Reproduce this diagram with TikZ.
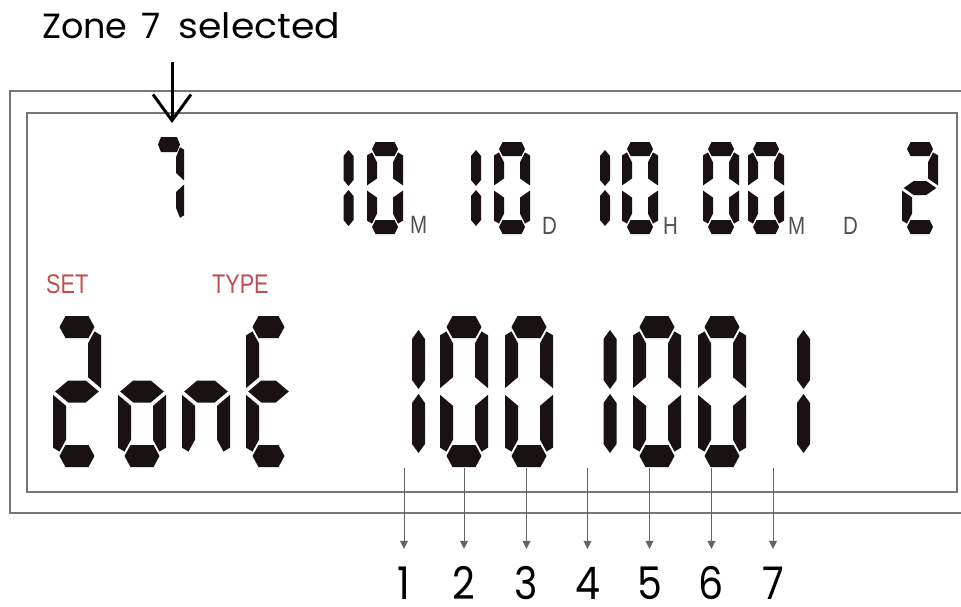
\documentclass[tikz,border=0pt]{standalone}
\usepackage{fontspec}
\setmainfont{Liberation Sans}
\newfontfamily\popfont{Poppins}
\usetikzlibrary{arrows.meta}
\definecolor{framegray}{RGB}{118,118,118}
\definecolor{labgray}{RGB}{80,80,80}
\definecolor{setred}{RGB}{192,78,78}
\definecolor{segblack}{RGB}{26,18,18}
\definecolor{arrowgray}{RGB}{100,100,100}

% seven-segment digit: #1 left, #2 top, #3 width, #4 height, #5 vertical thickness, #6 horizontal thickness, #7 slant, #8 segments
\newcommand{\lcddigit}[8]{%
  \pgfmathsetmacro{\lcdL}{#1}\pgfmathsetmacro{\lcdT}{#2}%
  \pgfmathsetmacro{\lcdR}{#1+#3}\pgfmathsetmacro{\lcdB}{#2+#4}%
  \pgfmathsetmacro{\lcdM}{#2+#4/2}\pgfmathsetmacro{\lcdv}{#5}%
  \pgfmathsetmacro{\lcdh}{#6}\pgfmathsetmacro{\lcds}{#7}%
  \pgfmathsetmacro{\lcdg}{#5*0.17}%
  \pgfmathsetmacro{\lcdpi}{(#5/2)*(#6/2)/#7}%
  \pgfmathsetmacro{\lcdpo}{#5*0.3}%
  \foreach \sg in {#8} {\csname lcdseg\sg\endcsname}%
}
\newcommand{\lcdsega}{\fill[segblack] ({\lcdL+\lcdv/2+\lcds},\lcdT) -- ({\lcdR-\lcdv/2-\lcds},\lcdT) -- ({\lcdR-\lcdv/2},{\lcdT+\lcdh/2}) -- ({\lcdR-\lcdv/2-\lcds},{\lcdT+\lcdh}) -- ({\lcdL+\lcdv/2+\lcds},{\lcdT+\lcdh}) -- ({\lcdL+\lcdv/2},{\lcdT+\lcdh/2}) -- cycle;}
\newcommand{\lcdsegd}{\fill[segblack] ({\lcdL+\lcdv/2+\lcds},\lcdB) -- ({\lcdR-\lcdv/2-\lcds},\lcdB) -- ({\lcdR-\lcdv/2},{\lcdB-\lcdh/2}) -- ({\lcdR-\lcdv/2-\lcds},{\lcdB-\lcdh}) -- ({\lcdL+\lcdv/2+\lcds},{\lcdB-\lcdh}) -- ({\lcdL+\lcdv/2},{\lcdB-\lcdh/2}) -- cycle;}
\newcommand{\lcdsegg}{\fill[segblack] ({\lcdL+\lcdg},\lcdM) -- ({\lcdL+\lcdv+\lcdg},{\lcdM-\lcdh/2}) -- ({\lcdR-\lcdv-\lcdg},{\lcdM-\lcdh/2}) -- ({\lcdR-\lcdg},\lcdM) -- ({\lcdR-\lcdv-\lcdg},{\lcdM+\lcdh/2}) -- ({\lcdL+\lcdv+\lcdg},{\lcdM+\lcdh/2}) -- cycle;}
\newcommand{\lcdsegf}{\fill[segblack] ({\lcdL+\lcdv/2},{\lcdT+\lcdh/2+2*\lcdg}) -- ({\lcdL+\lcdv},{\lcdT+\lcdh/2+2*\lcdg+\lcdpi}) -- ({\lcdL+\lcdv},{\lcdM-\lcdh/2-1.5*\lcdg}) -- (\lcdL,{\lcdM-1.5*\lcdg}) -- (\lcdL,{\lcdT+\lcdh/2+2*\lcdg+\lcdpo}) -- cycle;}
\newcommand{\lcdsege}{\fill[segblack] ({\lcdL+\lcdv/2},{\lcdB-\lcdh/2-2*\lcdg}) -- ({\lcdL+\lcdv},{\lcdB-\lcdh/2-2*\lcdg-\lcdpi}) -- ({\lcdL+\lcdv},{\lcdM+\lcdh/2+1.5*\lcdg}) -- (\lcdL,{\lcdM+1.5*\lcdg}) -- (\lcdL,{\lcdB-\lcdh/2-2*\lcdg-\lcdpo}) -- cycle;}
\newcommand{\lcdsegb}{\fill[segblack] ({\lcdR-\lcdv/2},{\lcdT+\lcdh/2+2*\lcdg}) -- ({\lcdR-\lcdv},{\lcdT+\lcdh/2+2*\lcdg+\lcdpi}) -- ({\lcdR-\lcdv},{\lcdM-\lcdh/2-1.5*\lcdg}) -- (\lcdR,{\lcdM-1.5*\lcdg}) -- (\lcdR,{\lcdT+\lcdh/2+2*\lcdg+\lcdpo}) -- cycle;}
\newcommand{\lcdsegc}{\fill[segblack] ({\lcdR-\lcdv/2},{\lcdB-\lcdh/2-2*\lcdg}) -- ({\lcdR-\lcdv},{\lcdB-\lcdh/2-2*\lcdg-\lcdpi}) -- ({\lcdR-\lcdv},{\lcdM+\lcdh/2+1.5*\lcdg}) -- (\lcdR,{\lcdM+1.5*\lcdg}) -- (\lcdR,{\lcdB-\lcdh/2-2*\lcdg-\lcdpo}) -- cycle;}
% narrow "1": #1 centre x, #2 top, #3 height, #4 thickness, #5 point length, #6 end inset, #7 middle gap
\newcommand{\lcdone}[7]{%
  \pgfmathsetmacro{\onX}{#1}\pgfmathsetmacro{\onT}{#2+#6}\pgfmathsetmacro{\onB}{#2+#3-#6}%
  \pgfmathsetmacro{\onM}{#2+#3/2}\pgfmathsetmacro{\onw}{#4/2}\pgfmathsetmacro{\onp}{#5}\pgfmathsetmacro{\ong}{#7}%
  \fill[segblack] (\onX,\onT) -- ({\onX+\onw},{\onT+\onp}) -- ({\onX+\onw},{\onM-\ong-\onp}) -- (\onX,{\onM-\ong}) -- ({\onX-\onw},{\onM-\ong-\onp}) -- ({\onX-\onw},{\onT+\onp}) -- cycle;
  \fill[segblack] (\onX,{\onM+\ong}) -- ({\onX+\onw},{\onM+\ong+\onp}) -- ({\onX+\onw},{\onB-\onp}) -- (\onX,\onB) -- ({\onX-\onw},{\onB-\onp}) -- ({\onX-\onw},{\onM+\ong+\onp}) -- cycle;
}
\newcommand{\toprowdigit}[2]{\lcddigit{#1}{142}{36}{92}{10}{14}{3.5}{#2}}
\newcommand{\bigdigit}[3]{\lcddigit{#1}{316}{#2}{151}{13}{22}{6}{#3}}

\begin{document}
\begin{tikzpicture}[x=1pt,y=-1pt,
  frameline/.style={draw=framegray,line width=1.8pt},
  unitlab/.style={anchor=base west,inner sep=0pt,text=labgray,font=\fontsize{25}{25}\selectfont},
  redlab/.style={anchor=base west,inner sep=0pt,text=setred,font=\fontsize{27}{27}\selectfont},
  bitnum/.style={anchor=base,inner sep=0pt,text height=35pt,text depth=0pt,font=\popfont\fontsize{45}{45}\selectfont},
  bitarrow/.style={draw=arrowgray,line width=0.7pt,shorten >=15pt,-{Triangle[length=8pt,width=8pt]}},
  selarrow/.style={draw=black,line width=3pt,-{Straight Barb[length=26pt,width=38pt,line width=3pt]}}]
\useasboundingbox (0,0) rectangle (961,606);
\fill[white] (0,0) rectangle (961,606);

% frames
\draw[frameline] (961,91) -- (10,91) -- (10,513) -- (961,513);
\draw[frameline] (27,113) rectangle (957,492);

% title and arrow
\node[anchor=base west,inner sep=0pt,font=\popfont\fontsize{35}{35}\selectfont] (title) at (42,38) {Zone\hspace{14pt}7\hspace{18pt}\scalebox{1.08}[1]{selected}};
\coordinate (zs) at (172,62);
\coordinate (ze) at (172,123);
\draw[selarrow] (zs) -- (ze);

% top row
\lcddigit{154}{137}{30}{91}{8}{15}{3}{a,b,c}
\lcdone{348.5}{142}{92}{10}{6}{8}{2}
\toprowdigit{367}{a,b,c,d,e,f}
\lcdone{476}{142}{92}{10}{6}{8}{2}
\toprowdigit{494}{a,b,c,d,e,f}
\lcdone{605}{142}{92}{10}{6}{8}{2}
\toprowdigit{622}{a,b,c,d,e,f}
\toprowdigit{703}{a,b,c,d,e,f}
\toprowdigit{748}{a,b,c,d,e,f}
\toprowdigit{902}{a,b,g,e,d}

\node[unitlab] (um1) at (410,233) {\scalebox{0.82}[1]{M}};
\node[unitlab] (ud1) at (542,234) {\scalebox{0.82}[1]{D}};
\node[unitlab] (uh) at (663,234) {\scalebox{0.82}[1]{H}};
\node[unitlab] (um2) at (788,234) {\scalebox{0.82}[1]{M}};
\node[unitlab] (ud2) at (843,234) {\scalebox{0.82}[1]{D}};

\node[redlab] (set) at (46,293) {\scalebox{0.8}[1]{SET}};
\node[redlab] (type) at (212,293) {\scalebox{0.8}[1]{TYPE}};

% second row
\bigdigit{53}{48}{a,b,g,e,d}
\bigdigit{118}{48}{g,c,d,e}
\bigdigit{182}{48}{g,c,e}
\bigdigit{246}{45}{a,f,g,e,d}
\lcdone{418.5}{316}{151}{13}{9}{14}{2.5}
\bigdigit{440}{48}{a,b,c,d,e,f}
\bigdigit{505}{48}{a,b,c,d,e,f}
\lcdone{610}{316}{151}{13}{9}{14}{2.5}
\bigdigit{633}{48}{a,b,c,d,e,f}
\bigdigit{698}{48}{a,b,c,d,e,f}
\lcdone{803.5}{316}{151}{13}{9}{14}{2.5}

% bit arrows and numbers
\foreach \i/\x in {1/404,2/464,3/526.5,4/587.5,5/649.5,6/711.5,7/773} {
  \coordinate (s\i) at (\x,468);
  \node[bitnum] (n\i) at (\x,599) {\scalebox{0.88}[1]{\i}};
  \draw[bitarrow] (s\i) -- (n\i.north);
}
\end{tikzpicture}
\end{document}
